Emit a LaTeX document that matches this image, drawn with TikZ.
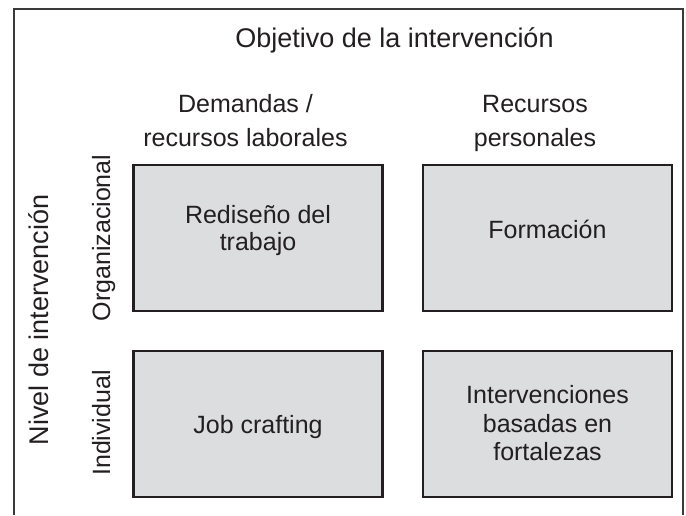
\documentclass[tikz,border=0pt]{standalone}
\usepackage{fontspec}
\setmainfont{Liberation Sans}
\definecolor{ink}{HTML}{231F20}
\definecolor{cellfill}{HTML}{DCDDDF}
\definecolor{framecol}{HTML}{3A3A3A}
\begin{document}
\begin{tikzpicture}[x=1pt,y=-1pt,
  cell/.style={draw=ink, line width=2.4pt, fill=cellfill, minimum width=249pt,
    minimum height=146pt, inner sep=0pt, outer sep=0pt},
  txt/.style={anchor=base, text=ink, font=\fontsize{25}{28}\selectfont, inner sep=0pt},
  bigtxt/.style={txt, font=\fontsize{27}{30}\selectfont},
  outerframe/.style={draw=framecol, line width=1.3pt}]
\useasboundingbox (0,0) rectangle (686,515);
% outer frame (open at the bottom)
\draw[outerframe] (14,515) -- (14,9) -- (683,9) -- (683,515);
% boxes
\node[cell] (orgdem) at (258,238) {};
\node[cell] (orgper) at (547.5,238) {};
\node[cell] (inddem) at (258,424) {};
\node[cell] (indper) at (547.5,424) {};
% title and column headers
\node[bigtxt] (title) at (394.5,47) {Objetivo de la intervención};
\node[txt] (demA) at (245.5,112) {Demandas /};
\node[txt] (demB) at (245.5,146) {recursos laborales};
\node[txt] (perA) at (535,112) {Recursos};
\node[txt] (perB) at (535,146) {personales};
% row labels
\node[bigtxt, rotate=90] (nivel) at (48,320) {Nivel de intervención};
\node[txt, rotate=90] (orglab) at (110,238) {Organizacional};
\node[txt, rotate=90] (indlab) at (110,423) {Individual};
% box texts
\node[txt] (rA) at (258,223) {Rediseño del};
\node[txt] (rB) at (258,250) {trabajo};
\node[txt] (form) at (547.5,238) {Formación};
\node[txt] (job) at (258,433) {Job crafting};
\node[txt] (iA) at (547.5,403) {Intervenciones};
\node[txt] (iB) at (547.5,432) {basadas en};
\node[txt] (iC) at (547.5,460) {fortalezas};
\end{tikzpicture}
\end{document}
